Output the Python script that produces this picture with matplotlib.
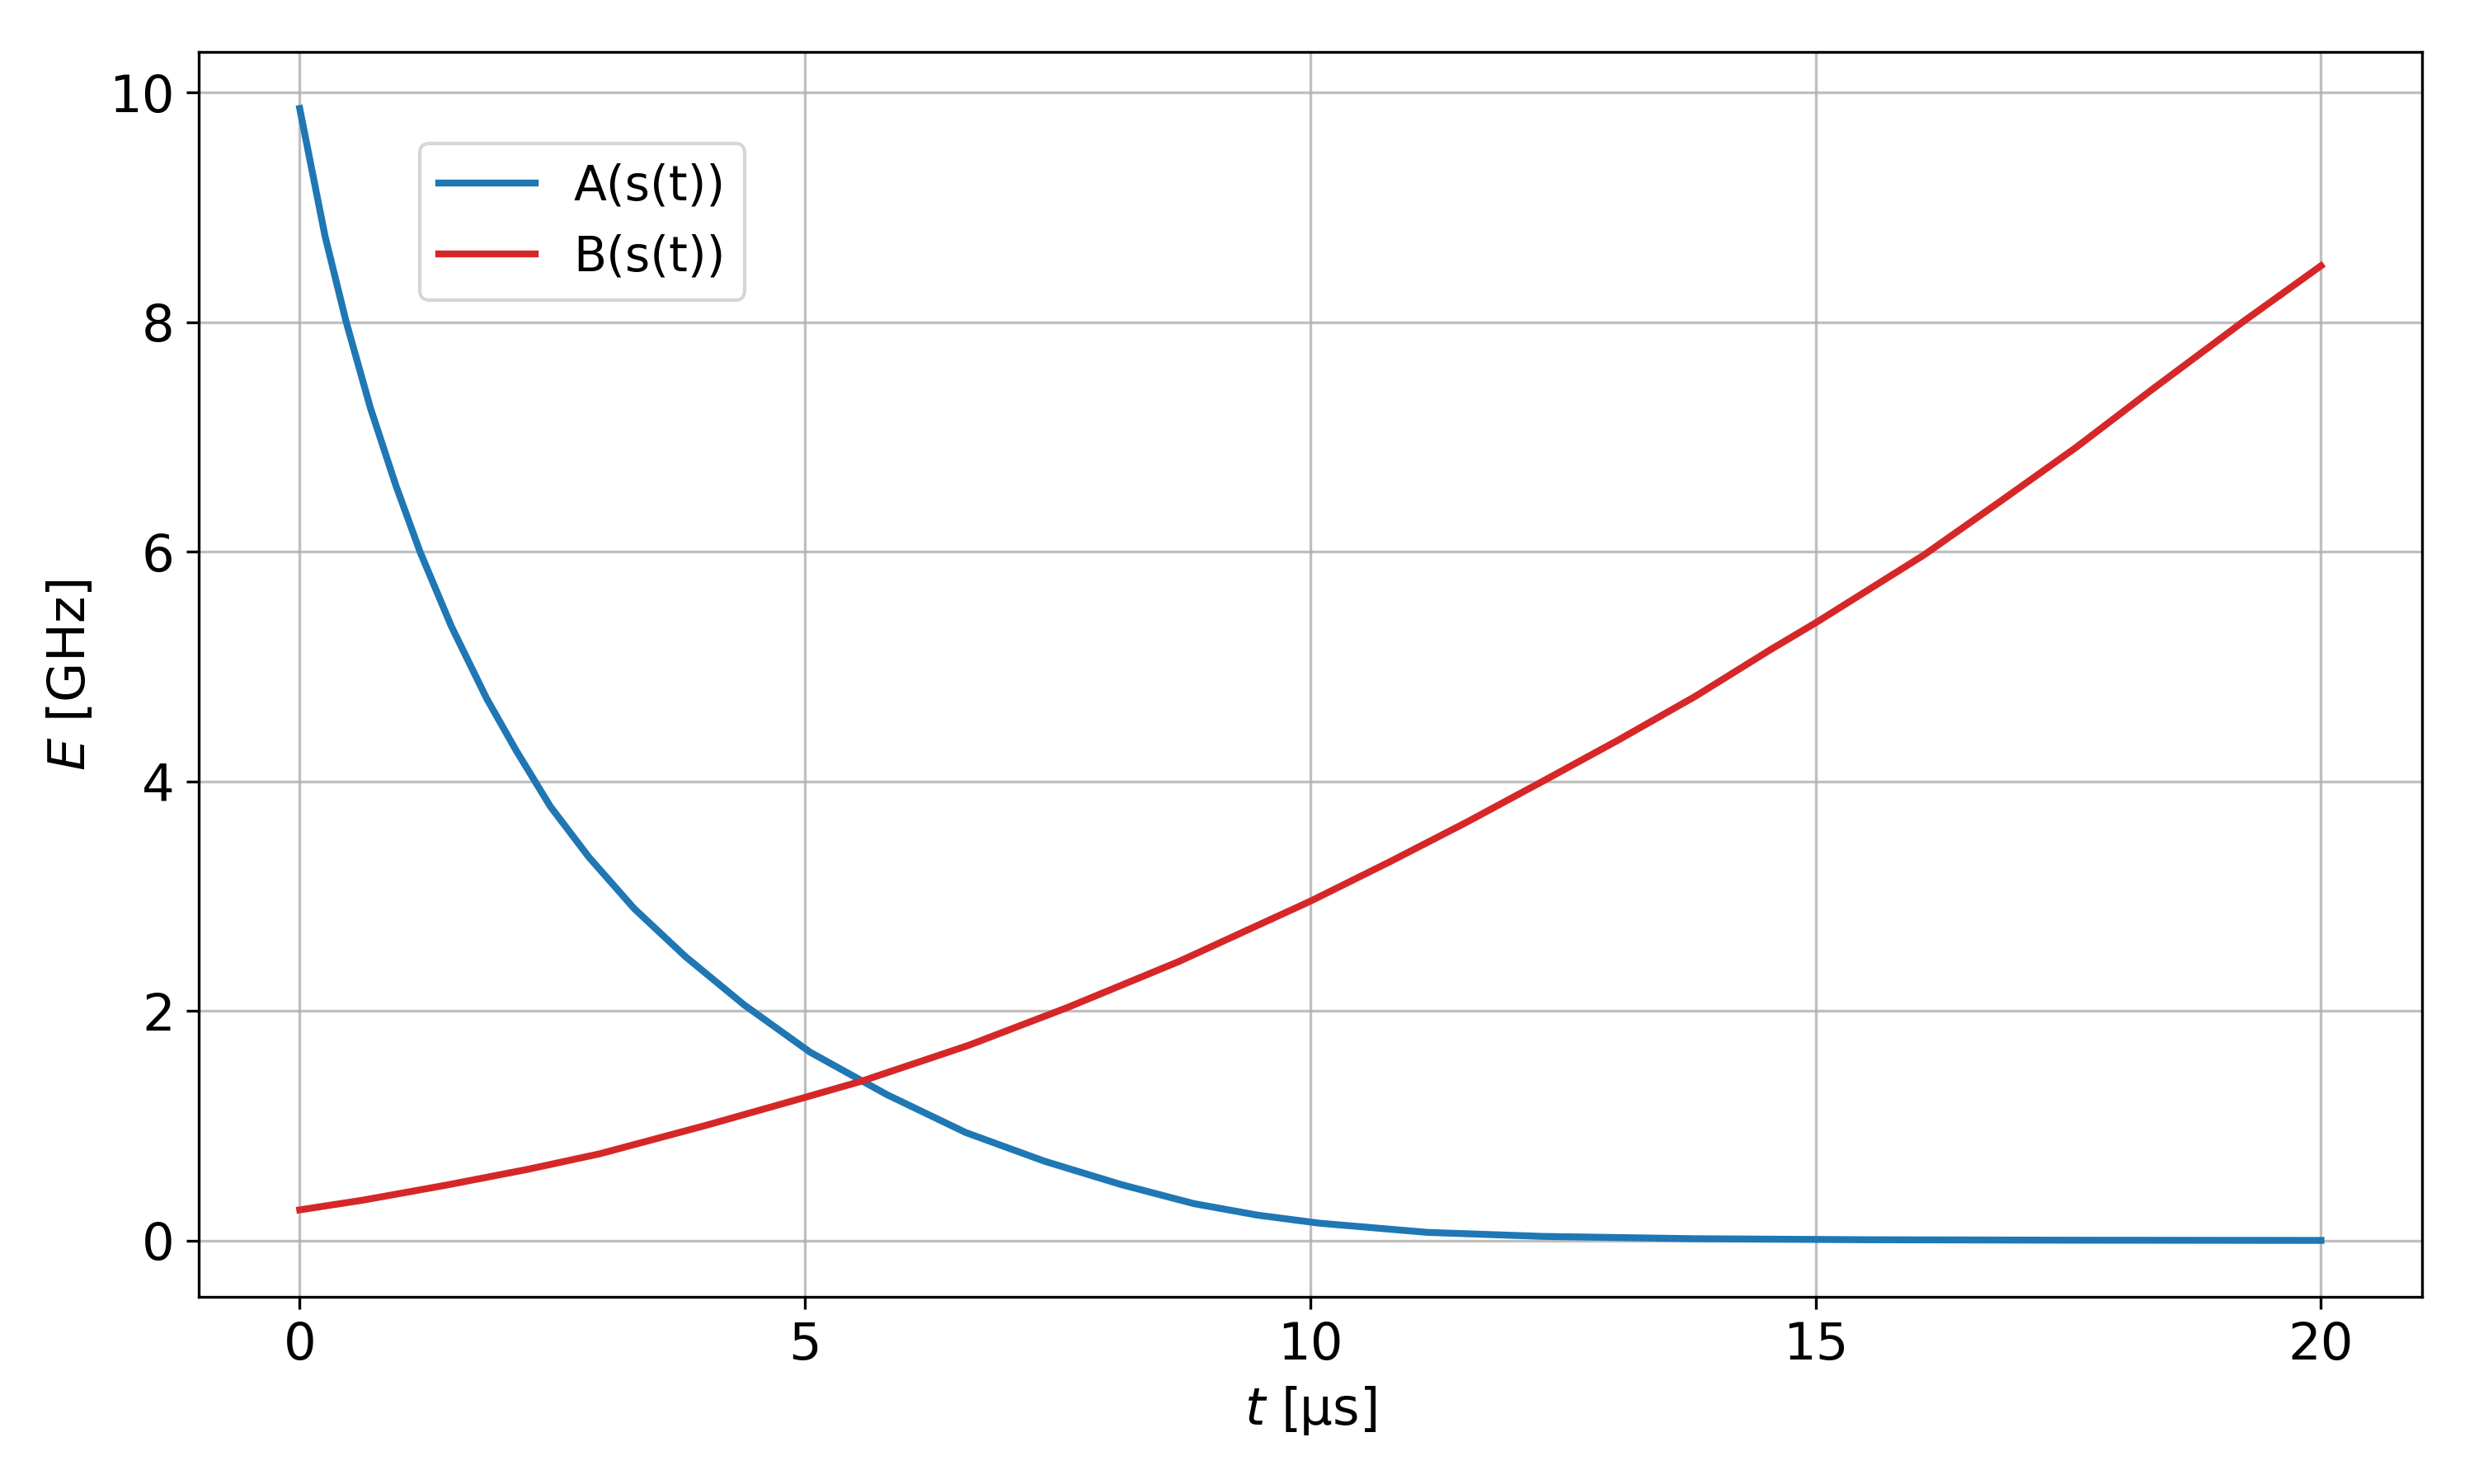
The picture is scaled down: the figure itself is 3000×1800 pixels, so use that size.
import matplotlib
matplotlib.use("Agg")
import matplotlib.pyplot as plt

# A(s(t)) samples
t_A = [0, 0.25, 0.46, 0.7, 0.95, 1.19, 1.5, 1.85, 2.14, 2.48,
       2.86, 3.31, 3.82, 4.40, 5.05, 5.81, 6.59, 7.37, 8.13, 8.85, 9.48, 10.09,
       11.16, 12.3, 13.8, 15.5, 17.5, 20]
A_vals = [9.86, 8.75, 8.0, 7.25, 6.58, 6.0, 5.35, 4.72, 4.27, 3.78,
          3.34, 2.89, 2.47, 2.05, 1.64, 1.27, 0.94, 0.69, 0.486, 0.32, 0.22, 0.15,
          0.07, 0.035, 0.015, 0.006, 0.002, 0.0]

# B(s(t)) samples
t_B = [0, 0.62, 1.44, 2.26, 2.97, 4.01, 5.0, 5.57, 6.62, 7.60, 8.70, 10.0, 10.79,
       11.54, 12.30, 13.05, 13.81, 14.56, 15.0, 16.07, 16.83, 17.58, 18.34, 19.24, 20]
B_vals = [0.266, 0.35, 0.48, 0.62, 0.755, 1.0, 1.246, 1.39, 1.70, 2.03, 2.43, 2.955,
          3.30, 3.64, 4.0, 4.36, 4.74, 5.15, 5.38, 5.97, 6.44, 6.91, 7.42, 8.01, 8.49]

labels = ["A(s(t))", "B(s(t))"]

fig = plt.figure(figsize=(10, 6), dpi=300)
ax = fig.add_axes([0.0803, 0.126, 0.8987, 0.839])
ax.plot(t_A, A_vals, color="#1f77b4", lw=2, label=labels[0])
ax.plot(t_B, B_vals, color="#d62728", lw=2, label=labels[1])
ax.grid(True, color="#b0b0b0", lw=0.8, alpha=0.8)
ax.set_xticks([0, 5, 10, 15, 20])
ax.set_yticks([0, 2, 4, 6, 8, 10])
ax.tick_params(labelsize=15)
ax.set_xlabel("$t$ [µs]", fontsize=15)
ax.set_ylabel("$E$ [GHz]", fontsize=15)
ax.legend(loc="upper left", bbox_to_anchor=(0.0994, 0.9265), borderaxespad=0,
          fontsize=14)
fig.savefig("out.png", dpi=300)
